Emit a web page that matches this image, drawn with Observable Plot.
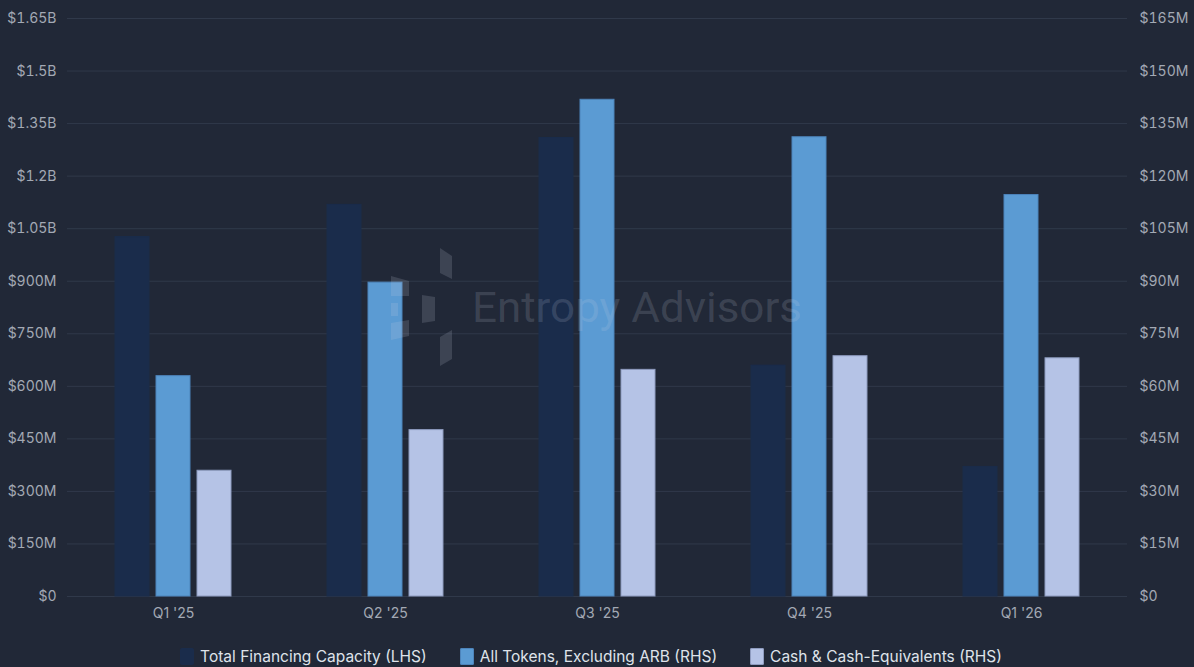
<!DOCTYPE html>
<html>
<head>
<meta charset="utf-8">
<script src="https://cdn.jsdelivr.net/npm/d3@7"></script>
<script src="https://cdn.jsdelivr.net/npm/@observablehq/plot@0.6"></script>
<style>
  html, body { margin: 0; padding: 0; background: #212837; }
  #wrap { position: relative; width: 1194px; height: 667px; overflow: hidden; font-family: Inter, "Noto Sans", sans-serif; }
  #legend { display: flex; justify-content: center; align-items: center; gap: 33px; padding-top: 12px; padding-right: 12px; font-size: 15.5px; color: #dfe3ea; }
  #legend .item { display: flex; align-items: center; gap: 6px; }
  #legend .sw { width: 14px; height: 17px; border-radius: 2px; }
  #wm { position: absolute; left: 0; top: 0; pointer-events: none; }
</style>
</head>
<body>
<div id="wrap">
  <div id="chart"></div>
  <div id="legend"></div>
</div>
<script>
// ---- data (values in $ millions) ----
const quarters = ["Q1 '25", "Q2 '25", "Q3 '25", "Q4 '25", "Q1 '26"];
const totalFinancingCapacity = [1026, 1118, 1309, 659, 370];   // LHS
const allTokensExARB = [62.9, 89.6, 141.8, 131.1, 114.6];        // RHS
const cashEquivalents = [35.9, 47.5, 64.7, 68.6, 68.0];         // RHS
const seriesNames = ["Total Financing Capacity (LHS)", "All Tokens, Excluding ARB (RHS)", "Cash & Cash-Equivalents (RHS)"];
const seriesColors = ["#1a2c4b", "#5b9bd3", "#b5c3e6"];
const seriesStrokes = ["#1a2c4b", "#4d84bb", "#8e9bbf"];
const leftTicks = [0, 150, 300, 450, 600, 750, 900, 1050, 1200, 1350, 1500, 1650];
const rhsFactor = 10; // RHS max $165M maps to LHS max $1.65B

const rows = [];
quarters.forEach((q, i) => {
  rows.push({quarter: q, series: seriesNames[0], value: totalFinancingCapacity[i]});
  rows.push({quarter: q, series: seriesNames[1], value: allTokensExARB[i] * rhsFactor});
  rows.push({quarter: q, series: seriesNames[2], value: cashEquivalents[i] * rhsFactor});
});

const fmtLeft = v => v === 0 ? "$0" : v >= 1000 ? "$" + (v / 1000) + "B" : "$" + v + "M";
const fmtRight = v => v === 0 ? "$0" : "$" + (v / rhsFactor) + "M";

const chart = Plot.plot({
  width: 1194,
  height: 635,
  marginLeft: 65,
  marginRight: 65,
  marginTop: 18,
  marginBottom: 39,
  style: {background: "transparent", fontFamily: "Inter, 'Noto Sans', sans-serif", fontSize: "14px", color: "#a3a9b4"},
  fx: {domain: quarters, padding: 0},
  x: {domain: seriesNames, paddingInner: 0.175, paddingOuter: 1.12, axis: null},
  y: {domain: [0, 1650]},
  color: {domain: seriesNames, range: seriesColors},
  marks: [
    Plot.gridY(leftTicks, {stroke: "#30394a", strokeOpacity: 1}),
    Plot.barY(rows, {fx: "quarter", x: "series", y: "value", fill: "series",
      stroke: d => seriesStrokes[seriesNames.indexOf(d.series)], strokeWidth: 1}),
    Plot.axisY(leftTicks, {anchor: "left", tickSize: 0, tickPadding: 11, tickFormat: fmtLeft, label: null, fill: "#a3a9b4", fontSize: 14}),
    Plot.axisY(leftTicks, {anchor: "right", tickSize: 0, tickPadding: 12, tickFormat: fmtRight, label: null, fill: "#a3a9b4", fontSize: 14}),
    Plot.axisFx({anchor: "bottom", tickSize: 0, tickPadding: 12, label: null, fill: "#a3a9b4", fontSize: 14})
  ]
});
document.getElementById("chart").appendChild(chart);

// legend
const legend = document.getElementById("legend");
seriesNames.forEach((name, i) => {
  const item = document.createElement("div");
  item.className = "item";
  const sw = document.createElement("span");
  sw.className = "sw";
  sw.style.background = seriesColors[i];
  if (i > 0) sw.style.boxShadow = "inset 0 0 0 1px " + seriesStrokes[i];
  const label = document.createElement("span");
  label.textContent = name;
  item.appendChild(sw);
  item.appendChild(label);
  legend.appendChild(item);
});

// watermark overlay
const ns = "http://www.w3.org/2000/svg";
const wm = document.createElementNS(ns, "svg");
wm.setAttribute("id", "wm");
wm.setAttribute("width", 1194);
wm.setAttribute("height", 667);
const wmFill = "rgba(200,210,225,0.17)";
const shapes = [
  "440,248 452,256 452,279 440,273",
  "391,276 409,281 409,296 391,296",
  "391,303 398,303 398,316 391,316",
  "422,295 435,297 435,321 422,323",
  "391,323 409,320 409,336 391,340",
  "440,337 452,330 452,359 440,366"
];
shapes.forEach(p => {
  const poly = document.createElementNS(ns, "polygon");
  poly.setAttribute("points", p);
  poly.setAttribute("fill", wmFill);
  wm.appendChild(poly);
});
const t = document.createElementNS(ns, "text");
t.setAttribute("x", 472);
t.setAttribute("y", 322);
t.setAttribute("textLength", 330);
t.setAttribute("lengthAdjust", "spacingAndGlyphs");
t.setAttribute("font-family", "Roboto, Inter, sans-serif");
t.setAttribute("font-size", 42);
t.setAttribute("fill", wmFill);
t.textContent = "Entropy Advisors";
wm.appendChild(t);
document.getElementById("wrap").appendChild(wm);
</script>
</body>
</html>
